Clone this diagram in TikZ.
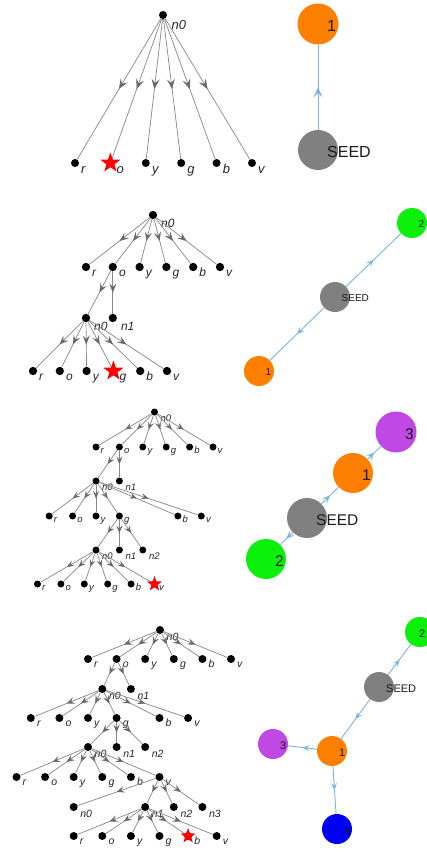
\documentclass[tikz,border=0pt]{standalone}
\usepackage{fontspec}
\setmainfont{Liberation Sans}
\usetikzlibrary{arrows.meta,decorations.markings,shapes.geometric}

\definecolor{edgegray}{RGB}{135,135,135}
\definecolor{tipgray}{RGB}{105,105,105}
\definecolor{linkblue}{RGB}{120,182,228}
\definecolor{seedgray}{RGB}{128,128,128}
\definecolor{orng}{RGB}{255,128,0}
\definecolor{grn}{RGB}{10,240,10}
\definecolor{prpl}{RGB}{192,72,228}
\definecolor{blu}{RGB}{0,0,245}

% per-panel parameters (changed before each panel)
\def\dotd{8pt}\def\lfs{13}\def\ldx{6}\def\ldy{10}\def\ndx{8}\def\ndy{14}
\def\tipl{8pt}\def\tipw{6pt}\def\tipi{3pt}
\def\bfs{16}\def\bdx{9}\def\bdy{2}

\tikzset{
  dot/.style={circle, fill=black, inner sep=0pt, minimum size=\dotd},
  lab/.style={inner sep=0pt, anchor=base west, text=black!85, font=\fontsize{\lfs}{\lfs}\selectfont\itshape},
  edge/.style={draw=edgegray, line width=0.7pt, postaction={decorate},
    decoration={markings, mark=at position 0.5 with {\arrow[color=tipgray]{Stealth[length=\tipl,width=\tipw,inset=\tipi]}}}},
  ball/.style={circle, inner sep=0pt, draw=none},
  ballab/.style={inner sep=0pt, anchor=west, text=black!90, font=\fontsize{\bfs}{\bfs}\selectfont},
  link/.style={draw=linkblue, line width=0.9pt, postaction={decorate},
    decoration={markings, mark=at position 0.5 with {\arrow[color=linkblue]{Stealth[length=\tipl,width=\tipw,inset=\tipi]}}}},
  target/.style={star, star points=5, star point ratio=2.5, fill=red, inner sep=0pt, draw=none},
}

% leaf vertex: name, x, y, label
\newcommand\leafv[4]{\node[dot] (#1) at (#2,#3) {};
  \node[lab] (#1-l) at ([shift={(\ldx,\ldy)}]#1.center) {#4};}
% branch vertex: name, x, y, label
\newcommand\innerv[4]{\node[dot] (#1) at (#2,#3) {};
  \node[lab] (#1-l) at ([shift={(\ndx,\ndy)}]#1.center) {#4};}
\newcommand\tedge[2]{\draw[edge] (#1) -- (#2);}
% coloured ball: name, x, y, diameter, colour, label
\newcommand\ballv[6]{\node[ball, fill=#5, minimum size=#4pt] (#1) at (#2,#3) {};
  \node[ballab] (#1-l) at ([shift={(\bdx,\bdy)}]#1.center) {#6};}
% six leaves r o y g b v in a row
\newcommand\sixrow[4]{% prefix, x0, step, y
  \leafv{#1r}{#2}{#4}{r}
  \leafv{#1o}{#2+#3}{#4}{o}
  \leafv{#1y}{#2+2*#3}{#4}{y}
  \leafv{#1g}{#2+3*#3}{#4}{g}
  \leafv{#1b}{#2+4*#3}{#4}{b}
  \leafv{#1v}{#2+5*#3}{#4}{v}}
\newcommand\fanout[2]{% parent, child prefix
  \tedge{#1}{#2r}\tedge{#1}{#2o}\tedge{#1}{#2y}\tedge{#1}{#2g}\tedge{#1}{#2b}\tedge{#1}{#2v}}

\begin{document}
\begin{tikzpicture}[x=1pt,y=-1pt]
\clip (0,0) rectangle (427,852);
\fill[white] (0,0) rectangle (427,852);

% ---------------- tree 1 ----------------
\def\dotd{8pt}\def\lfs{13}\def\ldx{6}\def\ldy{10}\def\ndx{8.5}\def\ndy{14}
\def\tipl{10pt}\def\tipw{8pt}\def\tipi{4pt}
\innerv{A-n0}{163}{15}{n0}
\sixrow{A-}{75}{35.4}{163}
\fanout{A-n0}{A-}
\node[target, minimum size=21pt] (A-star) at (A-o) {};

% ---------------- tree 2 ----------------
\def\dotd{8.3pt}\def\lfs{12}\def\ldx{6}\def\ldy{9}\def\ndx{8}\def\ndy{12}
\def\tipl{9pt}\def\tipw{7pt}\def\tipi{3.5pt}
\innerv{B-n0}{153}{215}{n0}
\sixrow{B-}{86}{26.8}{267}
\innerv{B-m0}{86}{318}{n0}
\innerv{B-m1}{112.8}{318}{n1}
\sixrow{B-s}{33}{26.8}{371}
\fanout{B-n0}{B-}
\tedge{B-o}{B-m0}\tedge{B-o}{B-m1}
\fanout{B-m0}{B-s}
\node[target, minimum size=21pt] (B-star) at (B-sg) {};

% ---------------- tree 3 ----------------
\def\dotd{7pt}\def\lfs{9.5}\def\ldx{4.5}\def\ldy{6.5}\def\ndx{6}\def\ndy{9}
\def\tipl{7.5pt}\def\tipw{6pt}\def\tipi{3pt}
\innerv{C-n0}{154.5}{412}{n0}
\sixrow{C-}{96}{23.4}{447}
\innerv{C-a0}{96}{481}{n0}
\innerv{C-a1}{119.4}{481}{n1}
\leafv{C-sr}{49.2}{516}{r}
\leafv{C-so}{72.6}{516}{o}
\leafv{C-sy}{96}{516}{y}
\leafv{C-sg}{119.4}{516}{g}
\leafv{C-sb}{177.9}{516}{b}
\leafv{C-sv}{201.3}{516}{v}
\innerv{C-b0}{96}{550}{n0}
\innerv{C-b1}{119.4}{550}{n1}
\innerv{C-b2}{142.8}{550}{n2}
\sixrow{C-t}{37.5}{23.4}{584}
\fanout{C-n0}{C-}
\tedge{C-o}{C-a0}\tedge{C-o}{C-a1}
\fanout{C-a0}{C-s}
\tedge{C-sg}{C-b0}\tedge{C-sg}{C-b1}\tedge{C-sg}{C-b2}
\fanout{C-b0}{C-t}
\node[target, minimum size=16pt] (C-star) at (C-tv) {};

% ---------------- tree 4 ----------------
\def\dotd{8pt}\def\lfs{10.5}\def\ldx{6}\def\ldy{8}\def\ndx{6.5}\def\ndy{10.5}
\def\tipl{8pt}\def\tipw{6.5pt}\def\tipi{3.2pt}
\innerv{D-n0}{160}{630}{n0}
\sixrow{D-}{88}{28.6}{659}
\innerv{D-a0}{102.3}{689}{n0}
\innerv{D-a1}{130.9}{689}{n1}
\leafv{D-sr}{30.8}{718}{r}
\leafv{D-so}{59.4}{718}{o}
\leafv{D-sy}{88}{718}{y}
\leafv{D-sg}{116.6}{718}{g}
\leafv{D-sb}{159.5}{718}{b}
\leafv{D-sv}{188.1}{718}{v}
\innerv{D-b0}{88}{747}{n0}
\innerv{D-b1}{116.6}{747}{n1}
\innerv{D-b2}{145.2}{747}{n2}
\sixrow{D-t}{16.5}{28.6}{777}
\innerv{D-c0}{73.7}{807}{n0}
\innerv{D-c1}{145.2}{807}{n1}
\innerv{D-c2}{173.8}{807}{n2}
\innerv{D-c3}{202.4}{807}{n3}
\sixrow{D-u}{73.7}{28.6}{836}
\fanout{D-n0}{D-}
\tedge{D-o}{D-a0}\tedge{D-o}{D-a1}
\fanout{D-a0}{D-s}
\tedge{D-sg}{D-b0}\tedge{D-sg}{D-b1}\tedge{D-sg}{D-b2}
\fanout{D-b0}{D-t}
\tedge{D-tv}{D-c0}\tedge{D-tv}{D-c1}\tedge{D-tv}{D-c2}\tedge{D-tv}{D-c3}
\fanout{D-c1}{D-u}
\node[target, minimum size=16pt] (D-star) at (D-ub) {};

% ---------------- seed graphs ----------------
\def\bfs{16}\def\bdx{9}\def\bdy{2}
\def\tipl{10pt}\def\tipw{9pt}\def\tipi{4.5pt}
\ballv{P-1}{318}{24}{41}{orng}{1}
\ballv{P-s}{318}{150}{40}{seedgray}{SEED}
\draw[link] (P-s) -- (P-1);

\def\bfs{10}\def\bdx{6.5}\def\bdy{1.5}
\def\tipl{7pt}\def\tipw{6pt}\def\tipi{3pt}
\ballv{Q-2}{412}{223}{30}{grn}{2}
\ballv{Q-s}{335}{297}{30}{seedgray}{SEED}
\ballv{Q-1}{259}{371}{30}{orng}{1}
\draw[link] (Q-s) -- (Q-2);
\draw[link] (Q-s) -- (Q-1);

\def\bfs{15.5}\def\bdx{9}\def\bdy{2}
\def\tipl{8pt}\def\tipw{7pt}\def\tipi{3.5pt}
\ballv{S-3}{396}{432}{41}{prpl}{3}
\ballv{S-1}{353}{473}{40}{orng}{1}
\ballv{S-s}{307}{518}{40}{seedgray}{SEED}
\ballv{S-2}{266}{559}{40}{grn}{2}
\draw[link] (S-s) -- (S-1);
\draw[link] (S-1) -- (S-3);
\draw[link] (S-s) -- (S-2);

\def\bfs{11}\def\bdx{7}\def\bdy{1.5}
\def\tipl{7pt}\def\tipw{6pt}\def\tipi{3pt}
\ballv{T-s}{379}{687}{30}{seedgray}{SEED}
\ballv{T-1}{332}{751}{30}{orng}{1}
\ballv{T-3}{273}{744}{30}{prpl}{3}
\ballv{T-4}{337}{829}{30}{blu}{4}
% the ball at the right border keeps its label inside the frame
\def\bdx{-1}
\ballv{T-2}{420}{632}{30}{grn}{2}
\draw[link] (T-s) -- (T-2);
\draw[link] (T-s) -- (T-1);
\draw[link] (T-1) -- (T-3);
\draw[link] (T-1) -- (T-4);
\end{tikzpicture}
\end{document}
